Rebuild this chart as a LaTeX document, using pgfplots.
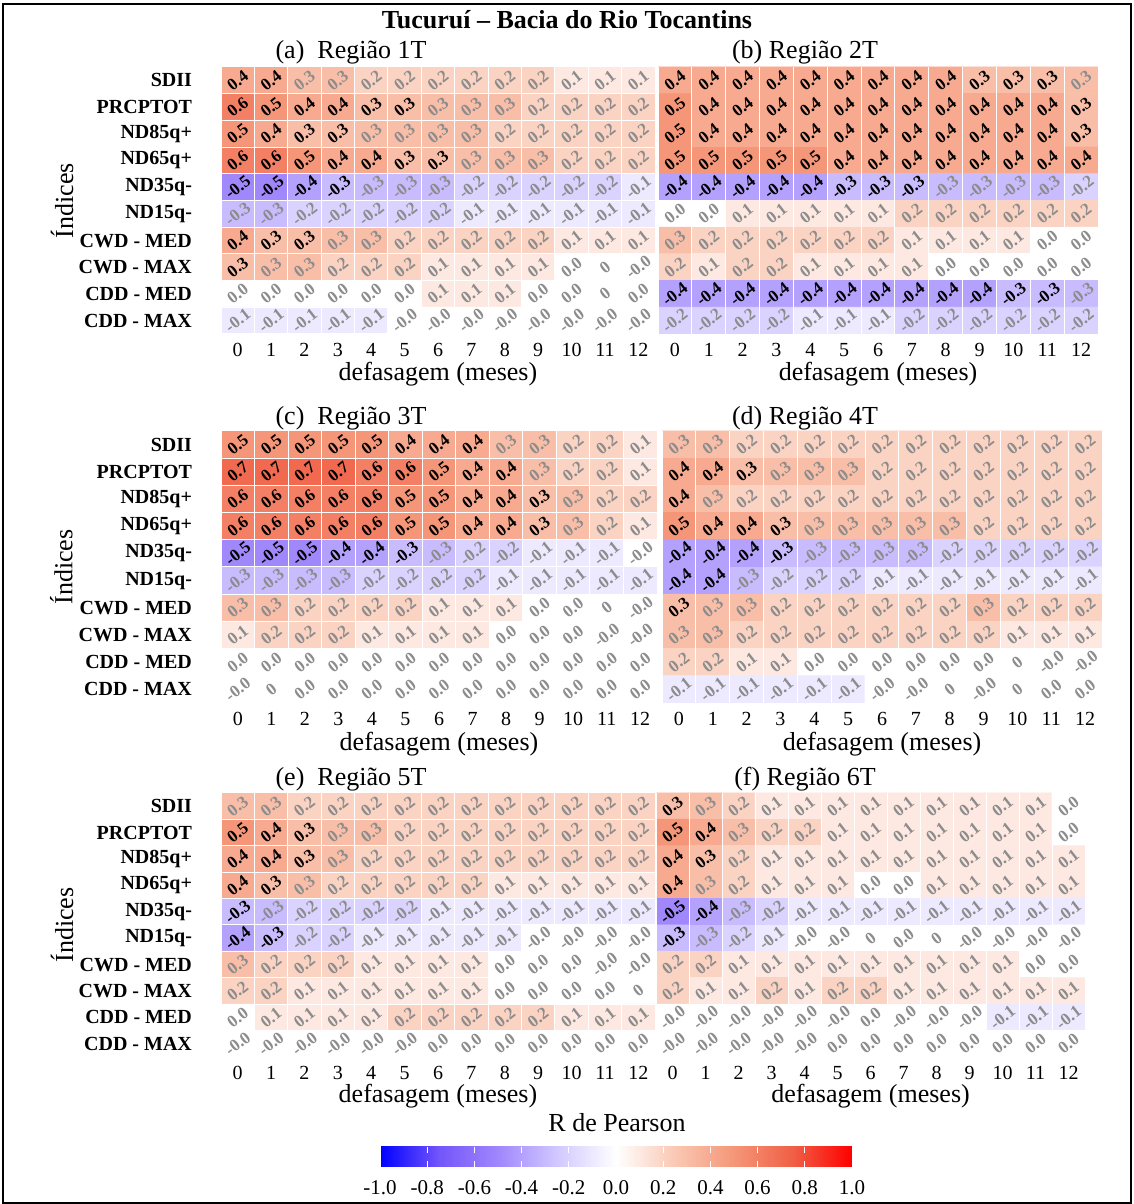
\documentclass[border=0pt]{standalone}
\usepackage{pgfplots}
\pgfplotsset{compat=1.18}
\usepackage{pgfplotstable}
\usepackage{fontspec}
\setmainfont{Liberation Serif}
\definecolor{lblgray}{RGB}{140,140,140}
\pgfplotsset{colormap={pearson}{rgb255=(0,0,255) rgb255=(115,85,250) rgb255=(160,135,252) rgb255=(210,200,255) rgb255=(255,255,255) rgb255=(250,200,180) rgb255=(245,150,120) rgb255=(240,95,70) rgb255=(255,0,0)}}

% s = 1 (black label) / 0 (grey label); v = printed value; rows: SDII ... CDD - MAX; columns: lag 0..12
\pgfplotstableread[row sep=\\]{
s v\\
1 0.4\\1 0.4\\0 0.3\\0 0.3\\0 0.2\\0 0.2\\0 0.2\\0 0.2\\0 0.2\\0 0.2\\0 0.1\\0 0.1\\0 0.1\\
1 0.6\\1 0.5\\1 0.4\\1 0.4\\1 0.3\\1 0.3\\0 0.3\\0 0.3\\0 0.3\\0 0.2\\0 0.2\\0 0.2\\0 0.2\\
1 0.5\\1 0.4\\1 0.3\\1 0.3\\0 0.3\\0 0.3\\0 0.3\\0 0.3\\0 0.2\\0 0.2\\0 0.2\\0 0.2\\0 0.2\\
1 0.6\\1 0.6\\1 0.5\\1 0.4\\1 0.4\\1 0.3\\1 0.3\\0 0.3\\0 0.3\\0 0.3\\0 0.2\\0 0.2\\0 0.2\\
1 -0.5\\1 -0.5\\1 -0.4\\1 -0.3\\0 -0.3\\0 -0.3\\0 -0.3\\0 -0.2\\0 -0.2\\0 -0.2\\0 -0.2\\0 -0.2\\0 -0.1\\
0 -0.3\\0 -0.3\\0 -0.2\\0 -0.2\\0 -0.2\\0 -0.2\\0 -0.2\\0 -0.1\\0 -0.1\\0 -0.1\\0 -0.1\\0 -0.1\\0 -0.1\\
1 0.4\\1 0.3\\1 0.3\\0 0.3\\0 0.3\\0 0.2\\0 0.2\\0 0.2\\0 0.2\\0 0.2\\0 0.1\\0 0.1\\0 0.1\\
1 0.3\\0 0.3\\0 0.3\\0 0.2\\0 0.2\\0 0.2\\0 0.1\\0 0.1\\0 0.1\\0 0.1\\0 0.0\\0 0\\0 -0.0\\
0 0.0\\0 0.0\\0 0.0\\0 0.0\\0 0.0\\0 0.0\\0 0.1\\0 0.1\\0 0.1\\0 0.0\\0 0.0\\0 0\\0 0.0\\
0 -0.1\\0 -0.1\\0 -0.1\\0 -0.1\\0 -0.1\\0 -0.0\\0 -0.0\\0 -0.0\\0 -0.0\\0 -0.0\\0 -0.0\\0 -0.0\\0 -0.0\\
}\tA
\pgfplotstableread[row sep=\\]{
s v\\
1 0.4\\1 0.4\\1 0.4\\1 0.4\\1 0.4\\1 0.4\\1 0.4\\1 0.4\\1 0.4\\1 0.3\\1 0.3\\1 0.3\\0 0.3\\
1 0.5\\1 0.4\\1 0.4\\1 0.4\\1 0.4\\1 0.4\\1 0.4\\1 0.4\\1 0.4\\1 0.4\\1 0.4\\1 0.4\\1 0.3\\
1 0.5\\1 0.4\\1 0.4\\1 0.4\\1 0.4\\1 0.4\\1 0.4\\1 0.4\\1 0.4\\1 0.4\\1 0.4\\1 0.4\\1 0.3\\
1 0.5\\1 0.5\\1 0.5\\1 0.5\\1 0.5\\1 0.4\\1 0.4\\1 0.4\\1 0.4\\1 0.4\\1 0.4\\1 0.4\\1 0.4\\
1 -0.4\\1 -0.4\\1 -0.4\\1 -0.4\\1 -0.4\\1 -0.3\\1 -0.3\\1 -0.3\\0 -0.3\\0 -0.3\\0 -0.3\\0 -0.3\\0 -0.2\\
0 0.0\\0 0.0\\0 0.1\\0 0.1\\0 0.1\\0 0.1\\0 0.1\\0 0.2\\0 0.2\\0 0.2\\0 0.2\\0 0.2\\0 0.2\\
0 0.3\\0 0.2\\0 0.2\\0 0.2\\0 0.2\\0 0.2\\0 0.2\\0 0.1\\0 0.1\\0 0.1\\0 0.1\\0 0.0\\0 0.0\\
0 0.2\\0 0.1\\0 0.2\\0 0.2\\0 0.1\\0 0.1\\0 0.1\\0 0.1\\0 0.0\\0 0.0\\0 0.0\\0 0.0\\0 0.0\\
1 -0.4\\1 -0.4\\1 -0.4\\1 -0.4\\1 -0.4\\1 -0.4\\1 -0.4\\1 -0.4\\1 -0.4\\1 -0.4\\1 -0.3\\1 -0.3\\0 -0.3\\
0 -0.2\\0 -0.2\\0 -0.2\\0 -0.2\\0 -0.1\\0 -0.1\\0 -0.1\\0 -0.2\\0 -0.2\\0 -0.2\\0 -0.2\\0 -0.2\\0 -0.2\\
}\tB
\pgfplotstableread[row sep=\\]{
s v\\
1 0.5\\1 0.5\\1 0.5\\1 0.5\\1 0.5\\1 0.4\\1 0.4\\1 0.4\\0 0.3\\0 0.3\\0 0.2\\0 0.2\\0 0.1\\
1 0.7\\1 0.7\\1 0.7\\1 0.7\\1 0.6\\1 0.6\\1 0.5\\1 0.4\\1 0.4\\0 0.3\\0 0.2\\0 0.2\\0 0.1\\
1 0.6\\1 0.6\\1 0.6\\1 0.6\\1 0.6\\1 0.5\\1 0.5\\1 0.4\\1 0.4\\1 0.3\\0 0.3\\0 0.2\\0 0.2\\
1 0.6\\1 0.6\\1 0.6\\1 0.6\\1 0.6\\1 0.5\\1 0.5\\1 0.4\\1 0.4\\1 0.3\\0 0.3\\0 0.2\\0 0.1\\
1 -0.5\\1 -0.5\\1 -0.5\\1 -0.4\\1 -0.4\\1 -0.3\\0 -0.3\\0 -0.2\\0 -0.2\\0 -0.1\\0 -0.1\\0 -0.1\\0 -0.0\\
0 -0.3\\0 -0.3\\0 -0.3\\0 -0.3\\0 -0.2\\0 -0.2\\0 -0.2\\0 -0.2\\0 -0.1\\0 -0.1\\0 -0.1\\0 -0.1\\0 -0.1\\
0 0.3\\0 0.3\\0 0.2\\0 0.2\\0 0.2\\0 0.2\\0 0.1\\0 0.1\\0 0.1\\0 0.0\\0 0.0\\0 0\\0 -0.0\\
0 0.1\\0 0.2\\0 0.2\\0 0.2\\0 0.1\\0 0.1\\0 0.1\\0 0.1\\0 0.0\\0 0.0\\0 0.0\\0 -0.0\\0 -0.0\\
0 0.0\\0 0.0\\0 0.0\\0 0.0\\0 0.0\\0 0.0\\0 0.0\\0 0.0\\0 0.0\\0 0.0\\0 0.0\\0 0.0\\0 0.0\\
0 -0.0\\0 0\\0 0.0\\0 0.0\\0 0.0\\0 0.0\\0 0.0\\0 0.0\\0 0.0\\0 0.0\\0 0.0\\0 0.0\\0 0.0\\
}\tC
\pgfplotstableread[row sep=\\]{
s v\\
0 0.3\\0 0.3\\0 0.2\\0 0.2\\0 0.2\\0 0.2\\0 0.2\\0 0.2\\0 0.2\\0 0.2\\0 0.2\\0 0.2\\0 0.2\\
1 0.4\\1 0.4\\1 0.3\\0 0.3\\0 0.3\\0 0.3\\0 0.2\\0 0.2\\0 0.2\\0 0.2\\0 0.2\\0 0.2\\0 0.2\\
1 0.4\\0 0.3\\0 0.2\\0 0.2\\0 0.2\\0 0.2\\0 0.2\\0 0.2\\0 0.2\\0 0.2\\0 0.2\\0 0.2\\0 0.2\\
1 0.5\\1 0.4\\1 0.4\\1 0.3\\0 0.3\\0 0.3\\0 0.3\\0 0.3\\0 0.3\\0 0.2\\0 0.2\\0 0.2\\0 0.2\\
1 -0.4\\1 -0.4\\1 -0.4\\1 -0.3\\0 -0.3\\0 -0.3\\0 -0.3\\0 -0.3\\0 -0.2\\0 -0.2\\0 -0.2\\0 -0.2\\0 -0.2\\
1 -0.4\\1 -0.4\\0 -0.3\\0 -0.2\\0 -0.2\\0 -0.2\\0 -0.1\\0 -0.1\\0 -0.1\\0 -0.1\\0 -0.1\\0 -0.1\\0 -0.1\\
1 0.3\\0 0.3\\0 0.3\\0 0.2\\0 0.2\\0 0.2\\0 0.2\\0 0.2\\0 0.2\\0 0.3\\0 0.2\\0 0.2\\0 0.2\\
0 0.3\\0 0.3\\0 0.2\\0 0.2\\0 0.2\\0 0.2\\0 0.2\\0 0.2\\0 0.2\\0 0.2\\0 0.1\\0 0.1\\0 0.1\\
0 0.2\\0 0.2\\0 0.1\\0 0.1\\0 0.0\\0 0.0\\0 0.0\\0 0.0\\0 0.0\\0 0.0\\0 0\\0 -0.0\\0 -0.0\\
0 -0.1\\0 -0.1\\0 -0.1\\0 -0.1\\0 -0.1\\0 -0.1\\0 -0.0\\0 -0.0\\0 0\\0 -0.0\\0 0\\0 0.0\\0 0.0\\
}\tD
\pgfplotstableread[row sep=\\]{
s v\\
0 0.3\\0 0.3\\0 0.2\\0 0.2\\0 0.2\\0 0.2\\0 0.2\\0 0.2\\0 0.2\\0 0.2\\0 0.2\\0 0.2\\0 0.2\\
1 0.5\\1 0.4\\1 0.3\\0 0.3\\0 0.3\\0 0.2\\0 0.2\\0 0.2\\0 0.2\\0 0.2\\0 0.2\\0 0.2\\0 0.2\\
1 0.4\\1 0.4\\1 0.3\\0 0.3\\0 0.2\\0 0.2\\0 0.2\\0 0.2\\0 0.2\\0 0.2\\0 0.2\\0 0.2\\0 0.2\\
1 0.4\\1 0.3\\0 0.3\\0 0.2\\0 0.2\\0 0.2\\0 0.2\\0 0.2\\0 0.1\\0 0.1\\0 0.1\\0 0.1\\0 0.1\\
1 -0.3\\0 -0.3\\0 -0.2\\0 -0.2\\0 -0.2\\0 -0.2\\0 -0.1\\0 -0.1\\0 -0.1\\0 -0.1\\0 -0.1\\0 -0.1\\0 -0.1\\
1 -0.4\\1 -0.3\\0 -0.2\\0 -0.2\\0 -0.1\\0 -0.1\\0 -0.1\\0 -0.1\\0 -0.1\\0 -0.0\\0 -0.0\\0 -0.0\\0 -0.0\\
0 0.3\\0 0.2\\0 0.2\\0 0.2\\0 0.1\\0 0.1\\0 0.1\\0 0.1\\0 0.0\\0 0.0\\0 0.0\\0 -0.0\\0 -0.0\\
0 0.2\\0 0.2\\0 0.1\\0 0.1\\0 0.1\\0 0.1\\0 0.1\\0 0.1\\0 0.0\\0 0.0\\0 0.0\\0 0.0\\0 0\\
0 0.0\\0 0.1\\0 0.1\\0 0.1\\0 0.1\\0 0.2\\0 0.2\\0 0.2\\0 0.2\\0 0.2\\0 0.1\\0 0.1\\0 0.1\\
0 -0.0\\0 -0.0\\0 -0.0\\0 -0.0\\0 -0.0\\0 -0.0\\0 0.0\\0 0.0\\0 0.0\\0 0.0\\0 0.0\\0 0.0\\0 0.0\\
}\tE
\pgfplotstableread[row sep=\\]{
s v\\
1 0.3\\0 0.3\\0 0.2\\0 0.1\\0 0.1\\0 0.1\\0 0.1\\0 0.1\\0 0.1\\0 0.1\\0 0.1\\0 0.1\\0 0.0\\
1 0.5\\1 0.4\\0 0.3\\0 0.2\\0 0.2\\0 0.1\\0 0.1\\0 0.1\\0 0.1\\0 0.1\\0 0.1\\0 0.1\\0 0.0\\
1 0.4\\1 0.3\\0 0.2\\0 0.1\\0 0.1\\0 0.1\\0 0.1\\0 0.1\\0 0.1\\0 0.1\\0 0.1\\0 0.1\\0 0.1\\
1 0.4\\0 0.3\\0 0.2\\0 0.1\\0 0.1\\0 0.1\\0 0.0\\0 0.0\\0 0.1\\0 0.1\\0 0.1\\0 0.1\\0 0.1\\
1 -0.5\\1 -0.4\\0 -0.3\\0 -0.2\\0 -0.1\\0 -0.1\\0 -0.1\\0 -0.1\\0 -0.1\\0 -0.1\\0 -0.1\\0 -0.1\\0 -0.1\\
1 -0.3\\0 -0.3\\0 -0.2\\0 -0.1\\0 -0.0\\0 -0.0\\0 0\\0 0.0\\0 0\\0 -0.0\\0 -0.0\\0 -0.0\\0 -0.0\\
0 0.2\\0 0.2\\0 0.1\\0 0.1\\0 0.1\\0 0.1\\0 0.1\\0 0.1\\0 0.1\\0 0.1\\0 0.1\\0 0.0\\0 0.0\\
0 0.2\\0 0.1\\0 0.1\\0 0.2\\0 0.1\\0 0.2\\0 0.2\\0 0.1\\0 0.1\\0 0.1\\0 0.1\\0 0.1\\0 0.1\\
0 -0.0\\0 -0.0\\0 -0.0\\0 -0.0\\0 -0.0\\0 -0.0\\0 0.0\\0 -0.0\\0 -0.0\\0 -0.0\\0 -0.1\\0 -0.1\\0 -0.1\\
0 -0.0\\0 -0.0\\0 -0.0\\0 -0.0\\0 -0.0\\0 0.0\\0 0.0\\0 0.0\\0 0.0\\0 0.0\\0 0.0\\0 0.0\\0 0.0\\
}\tF

\pgfplotsset{
  hm/.style={
    scale only axis, enlargelimits=false,
    xmin=-0.5, xmax=12.5, ymin=-0.5, ymax=9.5,
    xtick={0,...,12}, ytick={0,...,9},
    minor xtick={-0.5,0.5,...,12.5}, minor ytick={-0.5,0.5,...,9.5},
    xminorgrids=true, yminorgrids=true,
    minor grid style={white, line width=0.5pt},
    major tick length=0pt, minor tick length=0pt,
    axis line style={draw=none},
    axis on top,
    colormap name=pearson, point meta min=-1, point meta max=1,
    /pgf/number format/assume math mode=true,
    xticklabel style={font=\fontsize{10}{12}\selectfont, anchor=center, yshift=-8pt},
    xlabel={defasagem (meses)},
    xlabel style={font=\fontsize{13}{15}\selectfont, at={(axis description cs:0.5,-0.15)}, anchor=center},
  },
  hmleft/.style={hm,
    yticklabels={CDD - MAX, CDD - MED, CWD - MAX, CWD - MED, ND15q-, ND35q-, ND65q+, ND85q+, PRCPTOT, SDII},
    yticklabel style={font=\fontsize{10}{12}\selectfont\bfseries, anchor=east, xshift=-11pt},
    ylabel={Índices},
    ylabel style={font=\fontsize{13}{15}\selectfont, at={(axis description cs:-0.366,0.5)}, anchor=center},
  },
  hmright/.style={hm, ytick=\empty},
  celllab/.style={draw=none, mark=none, point meta=explicit symbolic,
    nodes near coords,
    every node near coord/.style={anchor=center, rotate=38, inner sep=0pt,
      font=\fontsize{8.5}{8.5}\selectfont\bfseries, text=#1}},
}

\newcommand{\heat}[1]{%
  \addplot[matrix plot*, mesh/cols=13, point meta=explicit]
    table[x expr={mod(\coordindex,13)}, y expr={9-floor((\coordindex+0.5)/13)}, meta=v]{#1};
  \addplot[celllab=black, restrict expr to domain={\thisrow{s}}{0.5:1.5}]
    table[x expr={mod(\coordindex,13)}, y expr={9-floor((\coordindex+0.5)/13)}, meta=v]{#1};
  \addplot[celllab=lblgray, restrict expr to domain={\thisrow{s}}{-0.5:0.5}]
    table[x expr={mod(\coordindex,13)}, y expr={9-floor((\coordindex+0.5)/13)}, meta=v]{#1};
}

\begin{document}
\begin{tikzpicture}
\useasboundingbox (0,0) rectangle (567pt,602pt);
\draw[line width=1pt] (1.5pt,0.5pt) rectangle (565.5pt,600pt);
\node[font=\fontsize{13}{15}\selectfont\bfseries] at (283.5pt,592pt) {Tucuruí – Bacia do Rio Tocantins};

\node[font=\fontsize{13}{15}\selectfont] at (175.5pt,576pt) {(a)~ Região 1T};
\node[font=\fontsize{13}{15}\selectfont] at (402.5pt,576pt) {(b) Região 2T};
\node[font=\fontsize{13}{15}\selectfont] at (175.5pt,393pt) {(c)~ Região 3T};
\node[font=\fontsize{13}{15}\selectfont] at (402.5pt,393pt) {(d) Região 4T};
\node[font=\fontsize{13}{15}\selectfont] at (175.5pt,212.5pt) {(e)~ Região 5T};
\node[font=\fontsize{13}{15}\selectfont] at (402.5pt,212.5pt) {(f) Região 6T};

\begin{axis}[hmleft, at={(110.5pt,435pt)}, anchor=south west, width=217pt, height=133.5pt]
\heat{\tA}
\end{axis}
\begin{axis}[hmright, at={(329pt,435pt)}, anchor=south west, width=220pt, height=133.5pt]
\heat{\tB}
\end{axis}
\begin{axis}[hmleft, at={(110.5pt,250.5pt)}, anchor=south west, width=218pt, height=136pt]
\heat{\tC}
\end{axis}
\begin{axis}[hmright, at={(331pt,250.5pt)}, anchor=south west, width=220pt, height=136pt]
\heat{\tD}
\end{axis}
\begin{axis}[hmleft, at={(110.5pt,73.5pt)}, anchor=south west, width=217pt, height=132pt]
\heat{\tE}
\end{axis}
\begin{axis}[hmright, at={(328pt,73.5pt)}, anchor=south west, width=214.5pt, height=132pt]
\heat{\tF}
\end{axis}

\node[font=\fontsize{13}{15}\selectfont] at (308.5pt,40.5pt) {R de Pearson};
\begin{axis}[at={(308pt,23.5pt)}, anchor=center, scale only axis, width=236pt, height=10pt,
  hide axis, xmin=0, xmax=1, ymin=0, ymax=1,
  colormap name=pearson, point meta min=-1, point meta max=1,
  colorbar horizontal,
  colorbar style={at={(0.5,0.5)}, anchor=center, scale only axis, width=236pt, height=10pt,
    xtick={-1,-0.8,-0.6,-0.4,-0.2,0,0.2,0.4,0.6,0.8,1},
    xticklabel style={font=\fontsize{10.5}{12}\selectfont, yshift=-3pt,
      /pgf/number format/.cd, fixed, fixed zerofill, precision=1, assume math mode=true},
    axis line style={draw=none}, major tick length=3pt,
    tick style={white, line width=0.5pt}}]
\addplot[draw=none] coordinates {(0.5,0.5)};
\end{axis}
\end{tikzpicture}
\end{document}
